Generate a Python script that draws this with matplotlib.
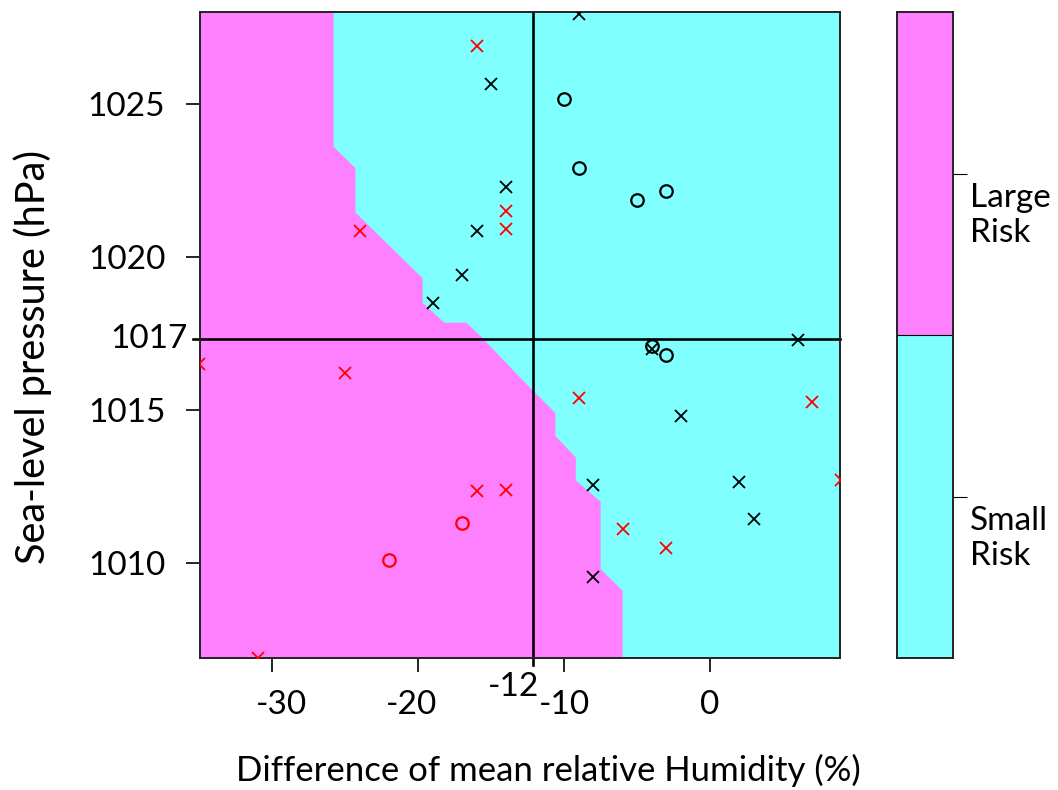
import matplotlib
matplotlib.use("Agg")
import matplotlib.pyplot as plt
import matplotlib.transforms as mtransforms

plt.rcParams["font.family"] = ["Lato", "DejaVu Sans"]
plt.rcParams["axes.unicode_minus"] = False

C_LARGE = "#FF80FF"
C_SMALL = "#80FFFF"

# decision boundary: "large risk" lies to the left of / below this line
BOUND_X = [-25.8, -25.8, -24.3, -24.3, -19.7, -19.7, -18.2, -16.7, -15.7,
           -12.9, -10.6, -10.6, -9.2, -9.2, -7.5, -7.5, -6.0, -6.0]
BOUND_Y = [1028.0, 1023.6, 1022.9, 1021.45, 1019.3, 1018.5, 1017.85, 1017.85,
           1017.4, 1016.0, 1014.9, 1014.15, 1013.45, 1012.7, 1012.0, 1009.8,
           1009.1, 1006.9]

# observations
RED_X_HUM = [-16, -14, -14, -24, -35, -25, -16, -14, -31, -9, 7, 9, -6, -3]
RED_X_PRES = [1026.9, 1021.5, 1020.9, 1020.85, 1016.5, 1016.2, 1012.35,
              1012.4, 1006.9, 1015.4, 1015.25, 1012.7, 1011.1, 1010.5]
RED_O_HUM = [-17, -22]
RED_O_PRES = [1011.3, 1010.1]
BLK_X_HUM = [-15, -14, -16, -17, -19, -9, 6, -4, -2, 2, -8, 3, -8]
BLK_X_PRES = [1025.65, 1022.3, 1020.85, 1019.4, 1018.5, 1027.95, 1017.3,
              1017.0, 1014.8, 1012.65, 1012.55, 1011.45, 1009.55]
BLK_O_HUM = [-10, -9, -5, -3, -4, -3]
BLK_O_PRES = [1025.15, 1022.9, 1021.85, 1022.15, 1017.1, 1016.8]

# thresholds (drawn position, printed label)
HUM_CUT, HUM_CUT_LABEL = -12.15, "-12"
PRES_CUT, PRES_CUT_LABEL = 1017.33, "1017"

XLIM = (-34.95, 8.9)
YLIM = (1006.9, 1028.0)
XTICKS = [-30, -20, -10, 0]
YTICKS = [1010, 1015, 1020, 1025]

RISK_LABELS = ["Small\nRisk", "Large\nRisk"]
RISK_COLORS = [C_SMALL, C_LARGE]

W, H = 1058, 790
fig = plt.figure(figsize=(W / 100, H / 100), dpi=100)
ax = fig.add_axes([200 / W, 1 - 658 / H, 640 / W, 646 / H])
cax = fig.add_axes([897 / W, 1 - 658 / H, 56 / W, 646 / H])

# classification regions
ax.set_facecolor(C_SMALL)
poly_x = [XLIM[0]] + BOUND_X + [XLIM[0]]
poly_y = [BOUND_Y[0]] + BOUND_Y + [BOUND_Y[-1]]
ax.fill(poly_x, poly_y, color=C_LARGE, lw=0, zorder=1)

# threshold lines, running slightly past the frame like the tick marks
bx = mtransforms.blended_transform_factory(ax.transAxes, ax.transData)
by = mtransforms.blended_transform_factory(ax.transData, ax.transAxes)
ax.plot([-0.011, 1], [PRES_CUT, PRES_CUT], transform=bx, color="black",
        lw=1.9, clip_on=False, zorder=2)
ax.plot([HUM_CUT, HUM_CUT], [-0.011, 1], transform=by, color="black",
        lw=1.9, clip_on=False, zorder=2)

mk = dict(ls="none", ms=9, zorder=3)
ax.plot(RED_X_HUM, RED_X_PRES, marker="x", color="red", mew=1.3, **mk)
ax.plot(BLK_X_HUM, BLK_X_PRES, marker="x", color="black", mew=1.3, **mk)
ax.plot(RED_O_HUM, RED_O_PRES, marker="o", mfc="none", mec="red", mew=1.6, **mk)
ax.plot(BLK_O_HUM, BLK_O_PRES, marker="o", mfc="none", mec="black", mew=1.6, **mk)

ax.set_xlim(*XLIM)
ax.set_ylim(*YLIM)
ax.set_xticks(XTICKS)
ax.set_xticklabels([str(t) for t in XTICKS])
ax.set_yticks(YTICKS)
ax.set_yticklabels([str(t) for t in YTICKS])
ax.tick_params(length=10, width=1.2, labelsize=24)
ax.tick_params(axis="x", pad=13)
ax.tick_params(axis="y", pad=15)
for sp in ax.spines.values():
    sp.set_linewidth(1.4)
    sp.set_color("#222222")

# the original labels sit a little off their ticks
nudge = {"-30": 0.09, "-20": -0.07}
for lab in ax.get_xticklabels():
    dx = nudge.get(lab.get_text(), 0)
    if dx:
        lab.set_transform(lab.get_transform() +
                          mtransforms.ScaledTranslation(dx, 0, fig.dpi_scale_trans))

ax.text(-0.02, PRES_CUT, PRES_CUT_LABEL, transform=bx, ha="right",
        va="center", fontsize=24)
ax.text(HUM_CUT - 1.35, -0.045, HUM_CUT_LABEL, transform=by, ha="center",
        va="center", fontsize=24)

fig.text(548 / W, 1 - 770 / H, "Difference of mean relative Humidity (%)",
         ha="center", va="center", fontsize=25)
fig.text(33 / W, 1 - 357 / H, "Sea-level pressure (hPa)", rotation=90,
         ha="center", va="center", fontsize=28.5)

# legend bar
cax.bar([0.5, 0.5], [1, 1], bottom=[0, 1], width=1, color=RISK_COLORS, lw=0)
cax.axhline(1, color="black", lw=0.8)
cax.set_xlim(0, 1)
cax.set_ylim(0, 2)
cax.set_xticks([])
cax.yaxis.tick_right()
cax.set_yticks([0.5, 1.5])
cax.set_yticklabels([])
cax.tick_params(axis="y", length=10, width=0.8)
for sp in cax.spines.values():
    sp.set_linewidth(1.4)
    sp.set_color("#222222")
for i, lab in enumerate(RISK_LABELS):
    cax.text(1.3, i + 0.5 - 0.03, lab, transform=cax.get_yaxis_transform(),
             ha="left", va="top", fontsize=24, linespacing=1.2)

fig.savefig("out.png", dpi=100)
